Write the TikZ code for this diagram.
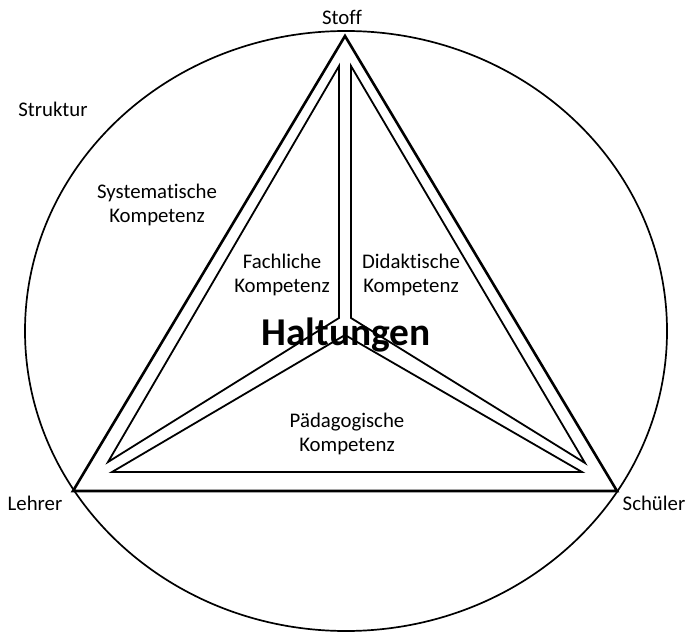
\documentclass[tikz,border=0pt]{standalone}
\usepackage{fontspec}
\setmainfont{Carlito}[Ligatures={NoCommon}]
\begin{document}
\begin{tikzpicture}[x=0.5pt,y=-0.5pt,
  outer/.style={line width=1.3pt},
  inner/.style={line width=0.9pt},
  txt/.style={align=center,inner sep=0pt,font=\fontsize{10.4}{12.2}\selectfont}]
\useasboundingbox (0,0) rectangle (689,635);
\coordinate (mid) at (346,331);
\draw[line width=0.85pt] (mid) ellipse [x radius=160.5pt, y radius=150pt];
\coordinate (stoff) at (345,36);
\coordinate (lehrer) at (73,491);
\coordinate (schueler) at (617,491);
\draw[outer] (stoff) -- (lehrer) -- (schueler) -- cycle;
\coordinate (fa) at (339,66);
\coordinate (fb) at (339,318);
\coordinate (fc) at (108,462);
\draw[inner] (fa) -- (fb) -- (fc) -- cycle;
\coordinate (da) at (351,66);
\coordinate (db) at (351,318);
\coordinate (dc) at (585,463);
\draw[inner] (da) -- (db) -- (dc) -- cycle;
\coordinate (pa) at (345,335);
\coordinate (pb) at (112,472);
\coordinate (pc) at (582,472);
\draw[inner] (pa) -- (pb) -- (pc) -- cycle;
\node[txt] (stofftxt) at (342,17) {Stoff};
\node[txt] (lehrertxt) at (35,503) {Lehrer};
\node[txt] (schuelertxt) at (654,503) {Schüler};
\node[txt] (struktur) at (53,109) {Struktur};
\node[txt] (system) at (157,205) {Systematische\\Kompetenz};
\node[txt] (fach) at (282,275) {Fachliche\\Kompetenz};
\node[txt] (didakt) at (411,275) {Didaktische\\Kompetenz};
\node[txt] (paed) at (347,434) {Pädagogische\\Kompetenz};
\node[inner sep=0pt,font=\bfseries\fontsize{19.7}{23}\selectfont] (haltung) at (346,335) {Haltungen};
\end{tikzpicture}
\end{document}
